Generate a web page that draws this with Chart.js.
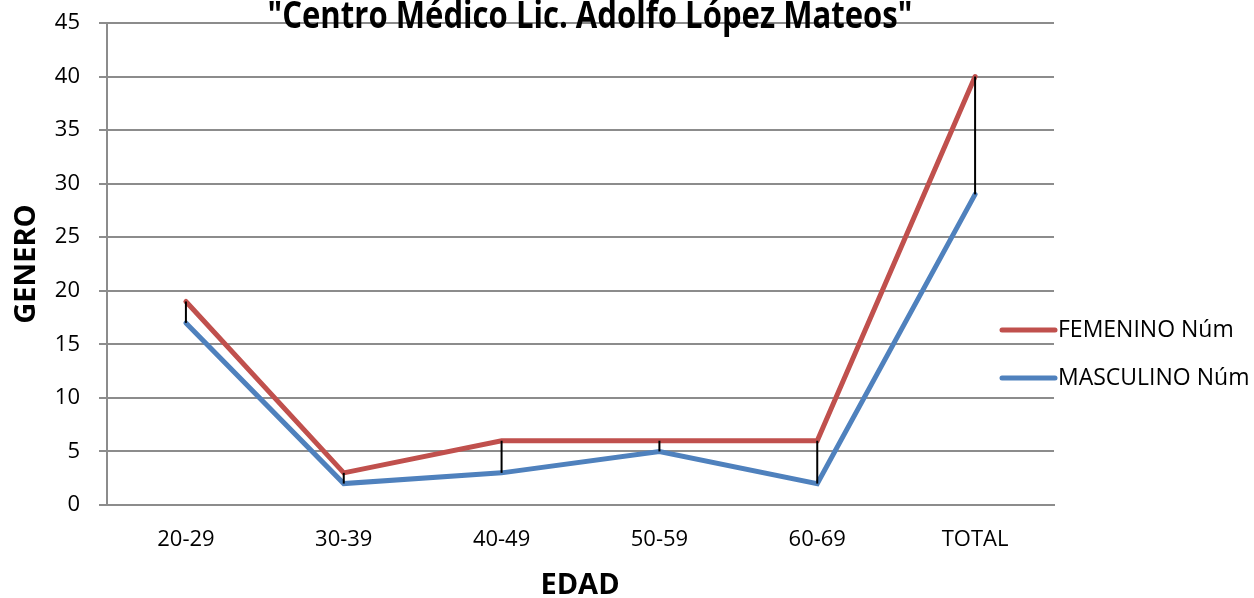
<!DOCTYPE html>
<html>
<head>
<meta charset="utf-8">
<script src="https://cdn.jsdelivr.net/npm/chart.js@4.4.1/dist/chart.umd.min.js"></script>
<style>
  html, body { margin: 0; padding: 0; background: #ffffff; }
  #wrap { width: 1254px; height: 598px; }
</style>
</head>
<body>
<div id="wrap"><canvas id="chart" width="1254" height="598"></canvas></div>
<script>
// Age groups and counts by gender
const categories = ['20-29', '30-39', '40-49', '50-59', '60-69', 'TOTAL'];
const femenino = [19, 3, 6, 6, 6, 40];
const masculino = [17, 2, 3, 5, 2, 29];
const seriesNames = ['FEMENINO Núm', 'MASCULINO Núm'];
const chartTitle = '"Centro Médico Lic. Adolfo López Mateos"';
const yTitle = 'GENERO';
const xTitle = 'EDAD';

const RED = '#C0504D';
const BLUE = '#4F81BD';
const GRID = '#8c8c8c';
const FONT = "'Open Sans', 'Liberation Sans', sans-serif";

// High-low lines joining both series at each category
const highLowLines = {
  id: 'highLowLines',
  afterDatasetsDraw(chart) {
    const { ctx } = chart;
    const x = chart.scales.x, y = chart.scales.y;
    ctx.save();
    ctx.strokeStyle = '#000000';
    ctx.lineWidth = 2;
    categories.forEach((c, i) => {
      const px = x.getPixelForValue(i);
      ctx.beginPath();
      ctx.moveTo(px, y.getPixelForValue(femenino[i]));
      ctx.lineTo(px, y.getPixelForValue(masculino[i]));
      ctx.stroke();
    });
    ctx.restore();
  }
};

// Title, axis titles and the legend
const decorations = {
  id: 'decorations',
  afterDraw(chart) {
    const { ctx } = chart;
    ctx.save();
    ctx.fillStyle = '#000000';

    // chart title (narrow bold face, partly above the canvas edge)
    ctx.font = "bold 37px " + FONT;
    ctx.textAlign = 'center';
    ctx.textBaseline = 'alphabetic';
    const w = ctx.measureText(chartTitle).width;
    const sx = 645 / w;
    ctx.save();
    ctx.translate(590, 28);
    ctx.scale(sx, 1);
    ctx.fillText(chartTitle, 0, 0);
    ctx.restore();

    // axis titles
    ctx.font = "bold 29px " + FONT;
    ctx.textBaseline = 'middle';
    ctx.fillText(xTitle, 580, 586);
    ctx.save();
    ctx.translate(27, 264);
    ctx.rotate(-Math.PI / 2);
    ctx.fillText(yTitle, 0, 0);
    ctx.restore();

    // legend
    const colors = [RED, BLUE];
    const rows = [330, 378];
    ctx.font = "23px " + FONT;
    ctx.textAlign = 'left';
    seriesNames.forEach((name, i) => {
      ctx.strokeStyle = colors[i];
      ctx.lineWidth = 5;
      ctx.lineCap = 'round';
      ctx.beginPath();
      ctx.moveTo(1002, rows[i]);
      ctx.lineTo(1055, rows[i]);
      ctx.stroke();
      ctx.fillStyle = '#000000';
      ctx.fillText(name, 1058, rows[i]);
    });
    ctx.restore();
  }
};

new Chart(document.getElementById('chart'), {
  type: 'line',
  data: {
    labels: categories,
    datasets: [
      {
        label: seriesNames[0],
        data: femenino,
        borderColor: RED,
        backgroundColor: RED,
        borderWidth: 5,
        borderCapStyle: 'round',
        pointRadius: 0,
        tension: 0,
        fill: false
      },
      {
        label: seriesNames[1],
        data: masculino,
        borderColor: BLUE,
        backgroundColor: BLUE,
        borderWidth: 5,
        borderCapStyle: 'round',
        pointRadius: 0,
        tension: 0,
        fill: false
      }
    ]
  },
  options: {
    responsive: false,
    animation: false,
    layout: { padding: { top: 23, right: 200, bottom: 0, left: 0 } },
    plugins: {
      legend: { display: false },
      title: { display: false },
      tooltip: { enabled: false }
    },
    scales: {
      x: {
        offset: true,
        grid: { display: false, drawTicks: false },
        border: { display: true, color: GRID, width: 2 },
        ticks: {
          color: '#000000',
          padding: 22,
          font: { family: FONT, size: 22 },
          maxRotation: 0
        },
        afterFit(scale) {
          scale.height = 93;
          scale.paddingLeft = 0;
          scale.paddingRight = 0;
        }
      },
      y: {
        min: 0,
        max: 45,
        grid: {
          color: GRID,
          lineWidth: 2,
          drawTicks: true,
          tickLength: 8,
          tickColor: GRID
        },
        border: { display: true, color: GRID, width: 2 },
        ticks: {
          stepSize: 5,
          color: '#000000',
          padding: 19,
          font: { family: FONT, size: 22 }
        },
        afterFit(scale) {
          scale.width = 107;
          scale.paddingTop = 0;
          scale.paddingBottom = 0;
        }
      }
    }
  },
  plugins: [highLowLines, decorations]
});
</script>
</body>
</html>
